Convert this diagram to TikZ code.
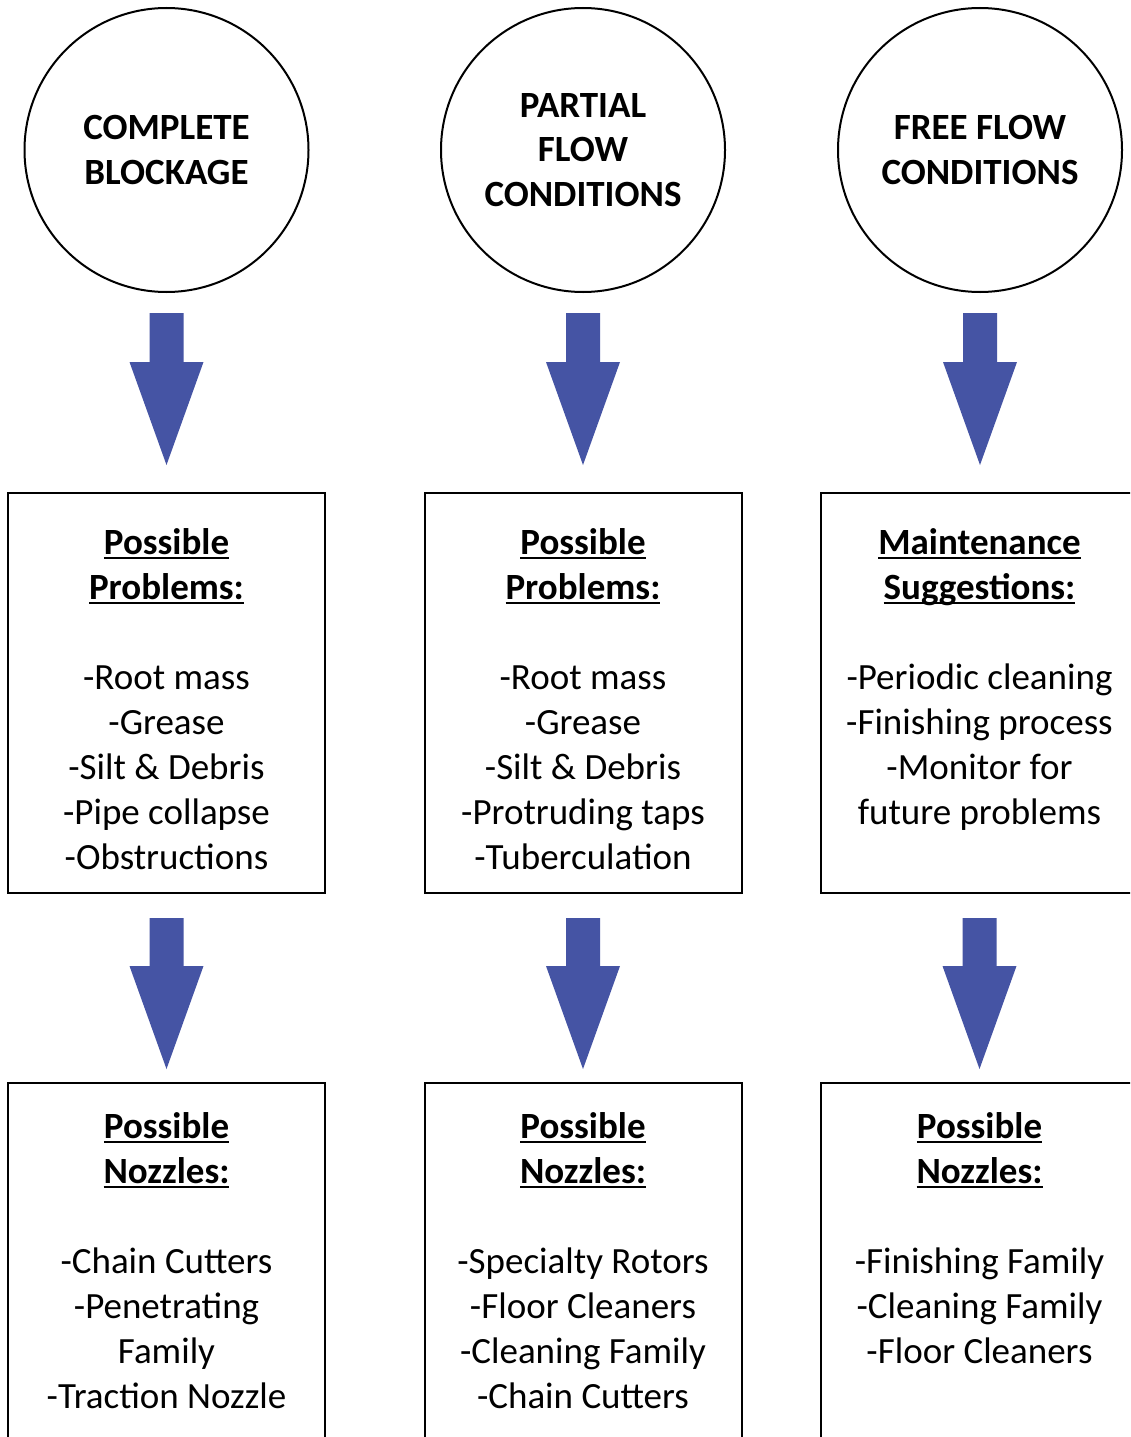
\documentclass[tikz,border=0pt]{standalone}
\usepackage{fontspec}
\setmainfont{Carlito}
\usetikzlibrary{calc}
\definecolor{arrowblue}{RGB}{69,84,164}
\newsavebox{\ulbox}
\newcommand{\myul}[1]{\sbox{\ulbox}{#1}\rlap{\rule[-5pt]{\wd\ulbox}{2pt}}\usebox{\ulbox}}
\newcommand{\blockarrow}[4]{%
  \fill[arrowblue] let \p1=(#1.south), \p2=(#2.north) in
    (\x1-17pt,\y1-#3) -- (\x1+17pt,\y1-#3) -- (\x1+17pt,\y2+#4+103pt)
    -- (\x1+37pt,\y2+#4+103pt) -- (\x1,\y2+#4) -- (\x1-37pt,\y2+#4+103pt)
    -- (\x1-17pt,\y2+#4+103pt) -- cycle;}
\begin{document}
\begin{tikzpicture}[x=1pt,y=-1pt,
  circ/.style={circle,draw,line width=2pt,minimum size=284pt,inner sep=0pt,
    align=center,font=\fontsize{37}{44.5}\selectfont\bfseries},
  panel/.style={rectangle,draw,line width=2pt,minimum width=317pt,minimum height=400pt,inner sep=0pt},
  txt/.style={anchor=north,align=center,inner sep=0pt,font=\fontsize{37}{45}\selectfont}]
\clip (0,0) rectangle (1130,1437);
\fill[white] (0,0) rectangle (1130,1437);
% circles
\node[circ] (c1) at (166.5,150) {COMPLETE\\BLOCKAGE};
\node[circ] (c2) at (583,150) {PARTIAL\\FLOW\\CONDITIONS};
\node[circ] (c3) at (980,150) {FREE FLOW\\CONDITIONS};
% middle panels
\node[panel] (p1) at (166.5,693) {};
\node[panel] (p2) at (583,693) {};
\node[panel] (p3) at (979.5,693) {};
% bottom panels
\node[panel] (n1) at (166.5,1283) {};
\node[panel] (n2) at (583,1283) {};
\node[panel] (n3) at (979.5,1283) {};
% texts
\node[txt] (tp1) at ($(p1.north)+(0,36)$) {\textbf{\myul{Possible}}\\\textbf{\myul{Problems:}}\\[45pt]-Root mass\\-Grease\\-Silt \& Debris\\-Pipe collapse\\-Obstructions};
\node[txt] (tp2) at ($(p2.north)+(0,36)$) {\textbf{\myul{Possible}}\\\textbf{\myul{Problems:}}\\[45pt]-Root mass\\-Grease\\-Silt \& Debris\\-Protruding taps\\-Tuberculation};
\node[txt] (tp3) at ($(p3.north)+(0,36)$) {\textbf{\myul{Maintenance}}\\\textbf{\myul{Suggestions:}}\\[45pt]-Periodic cleaning\\-Finishing process\\-Monitor for\\future problems};
\node[txt] (tn1) at ($(n1.north)+(0,30)$) {\textbf{\myul{Possible}}\\\textbf{\myul{Nozzles:}}\\[45pt]-Chain Cutters\\-Penetrating\\Family\\-Traction Nozzle};
\node[txt] (tn2) at ($(n2.north)+(0,30)$) {\textbf{\myul{Possible}}\\\textbf{\myul{Nozzles:}}\\[45pt]-Specialty Rotors\\-Floor Cleaners\\-Cleaning Family\\-Chain Cutters};
\node[txt] (tn3) at ($(n3.north)+(0,30)$) {\textbf{\myul{Possible}}\\\textbf{\myul{Nozzles:}}\\[45pt]-Finishing Family\\-Cleaning Family\\-Floor Cleaners};
% arrows
\blockarrow{c1}{p1}{20pt}{27pt}
\blockarrow{c2}{p2}{20pt}{27pt}
\blockarrow{c3}{p3}{20pt}{27pt}
\blockarrow{p1}{n1}{24pt}{13pt}
\blockarrow{p2}{n2}{24pt}{13pt}
\blockarrow{p3}{n3}{24pt}{13pt}
\end{tikzpicture}
\end{document}
